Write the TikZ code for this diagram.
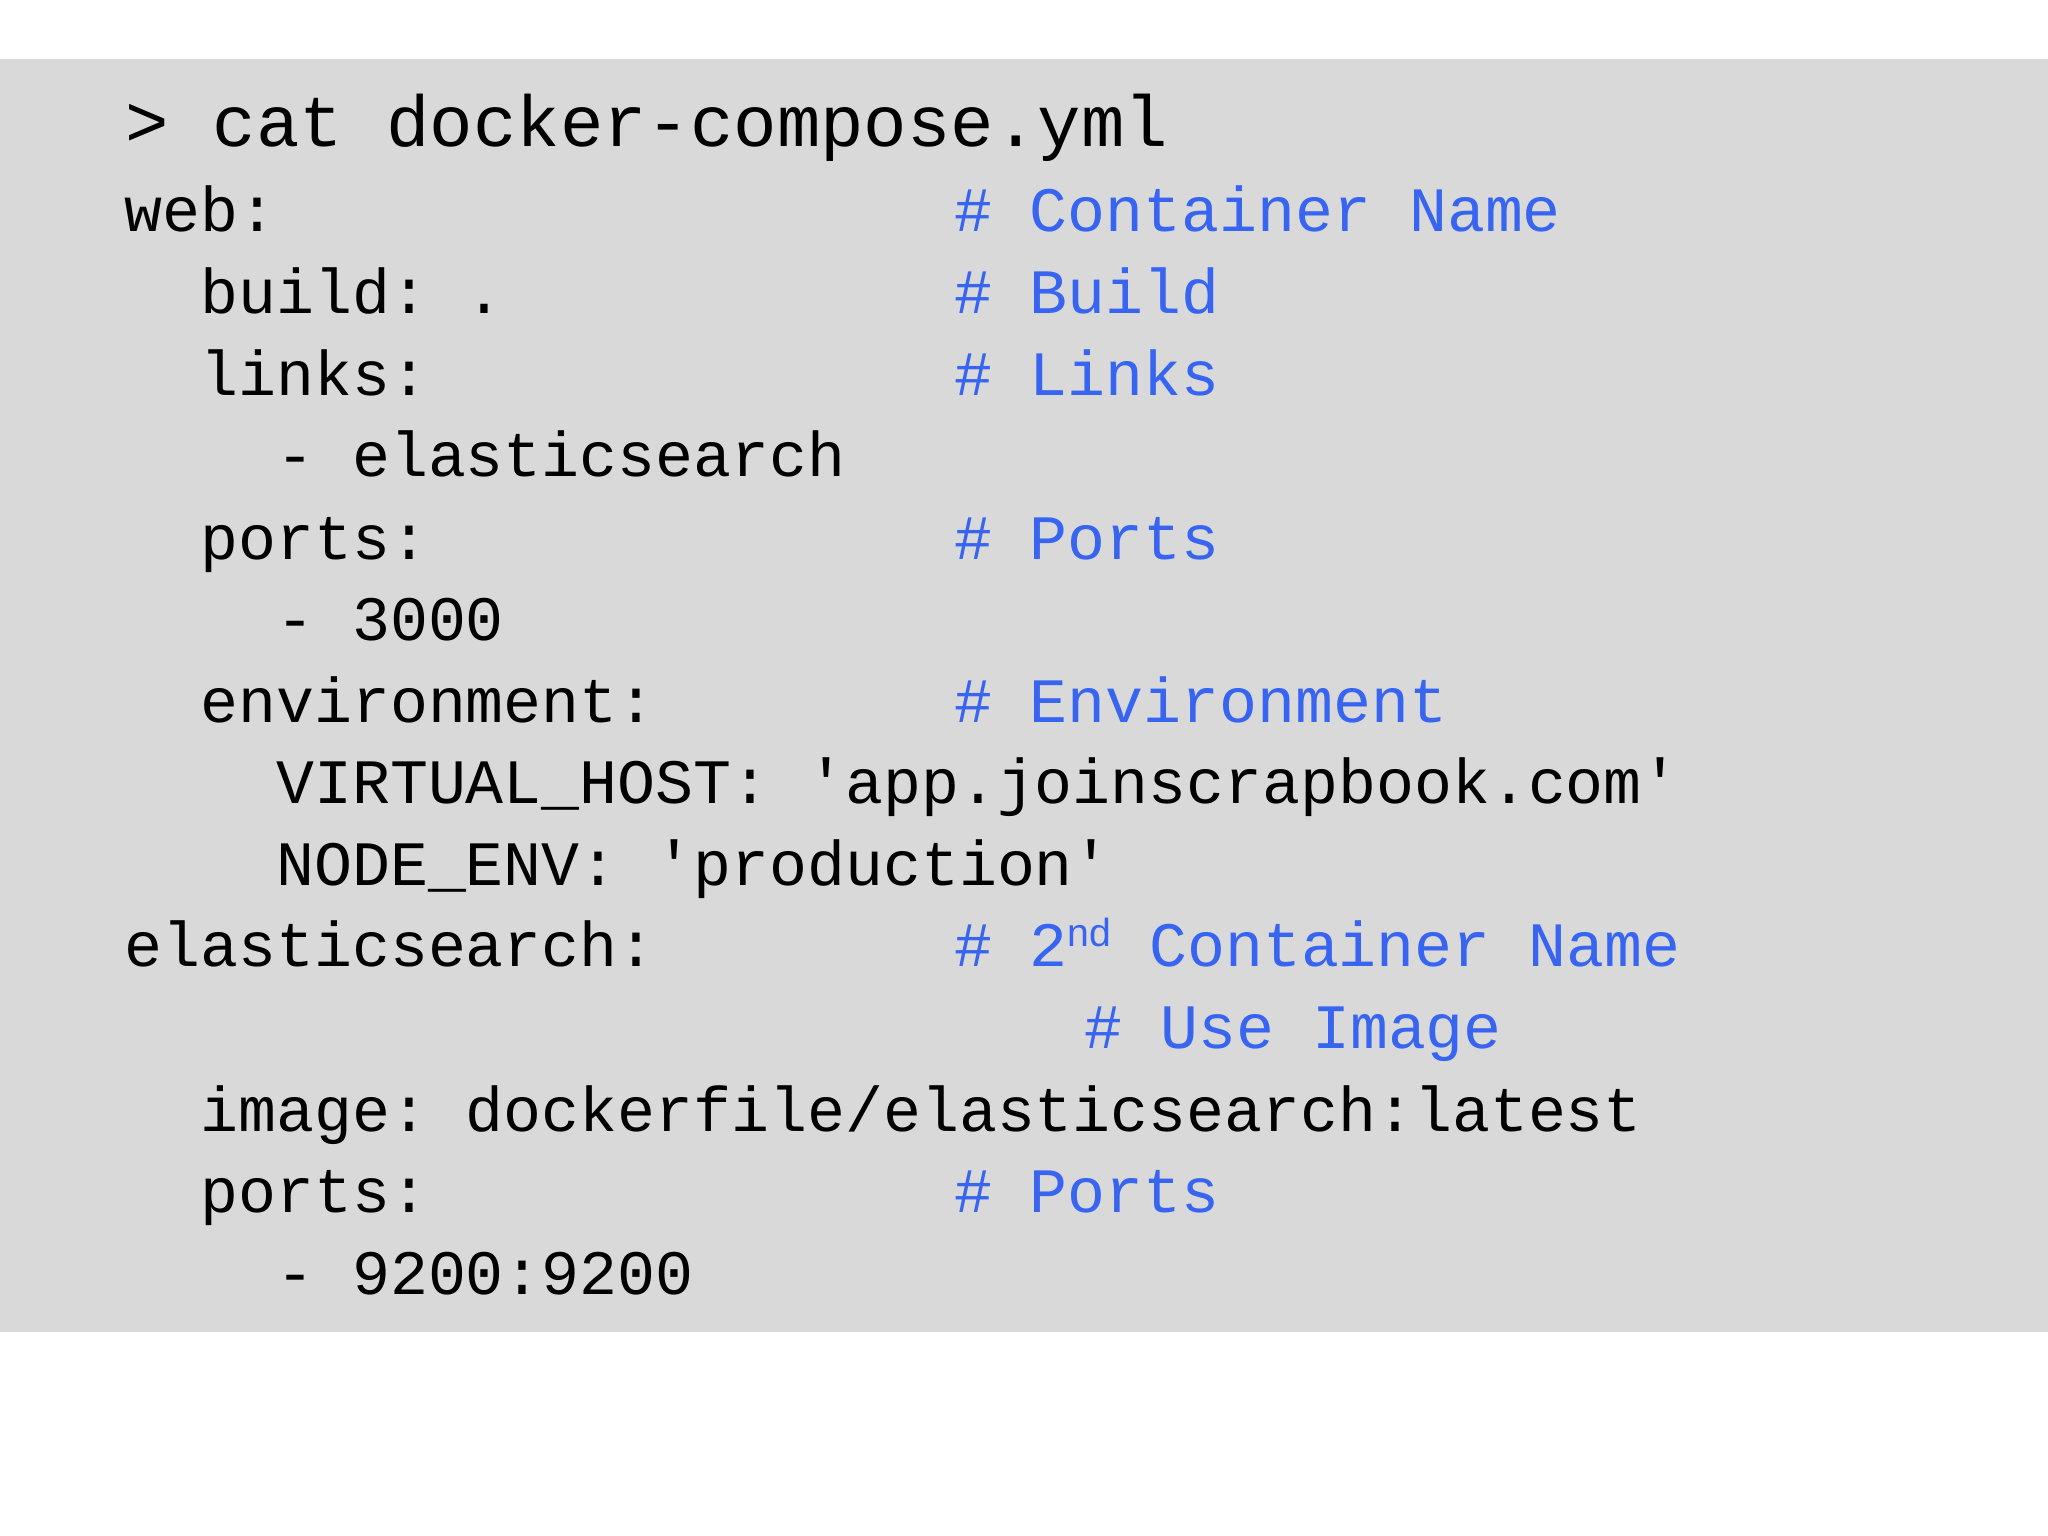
\documentclass[tikz,border=0pt]{standalone}
\usepackage{fontspec}
\setmonofont{Liberation Mono}
\definecolor{cmt}{RGB}{55,100,240}
\definecolor{bg}{RGB}{217,217,217}
\begin{document}
\begin{tikzpicture}[x=0.5pt,y=-0.5pt,
  code/.style={anchor=base west,inner sep=0pt,font=\ttfamily\fontsize{24.2}{24}\selectfont,text=black},
  cmtext/.style={code,text=cmt}]
\useasboundingbox (0,0) rectangle (1568,1176);
\fill[white] (0,0) rectangle (1568,1176);
\fill[bg] (0,45) rectangle (1568,1020);
\node[code,font=\ttfamily\fontsize{27.7}{28}\selectfont] (t) at (96,112) {> cat docker-compose.yml};
\node[code] (l1) at (95,177) {web:};
\node[code] (l2) at (95,240) {\ \ build: .};
\node[code] (l3) at (95,303) {\ \ links:};
\node[code] (l4) at (95,365) {\ \ \ \ - elasticsearch};
\node[code] (l5) at (95,428) {\ \ ports:};
\node[code] (l6) at (95,490) {\ \ \ \ - 3000};
\node[code] (l7) at (95,553) {\ \ environment:};
\node[code] (l8) at (95,615) {\ \ \ \ VIRTUAL\_HOST: 'app.joinscrapbook.com'};
\node[code] (l9) at (95,678) {\ \ \ \ NODE\_ENV: 'production'};
\node[code] (l10) at (95,740) {elasticsearch:};
\node[code] (l12) at (95,866) {\ \ image: dockerfile/elasticsearch:latest};
\node[code] (l13) at (95,928) {\ \ ports:};
\node[code] (l14) at (95,991) {\ \ \ \ - 9200:9200};
\node[cmtext] (c1) at (730,177) {\# Container Name};
\node[cmtext] (c2) at (730,240) {\# Build};
\node[cmtext] (c3) at (730,303) {\# Links};
\node[cmtext] (c5) at (730,428) {\# Ports};
\node[cmtext] (c7) at (730,553) {\# Environment};
\node[cmtext] (c10) at (730,740) {\# 2\raisebox{0.6ex}{\fontspec{Liberation Sans}\fontsize{15}{15}\selectfont nd} Container Name};
\node[cmtext] (c11) at (830,803) {\# Use Image};
\node[cmtext] (c13) at (730,928) {\# Ports};
\end{tikzpicture}
\end{document}
